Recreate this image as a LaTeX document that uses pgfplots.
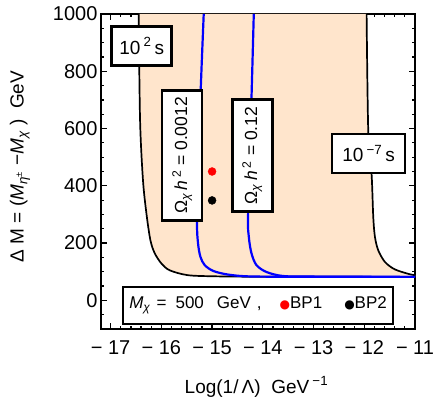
\documentclass[border=0pt]{standalone}
\usepackage{fontspec}
\setmainfont{Liberation Sans}
\newfontfamily\dejavu{DejaVu Sans}
\usepackage{pgfplots}
\pgfplotsset{compat=1.18}
\definecolor{peach}{RGB}{255,229,204}
\begin{document}
\begin{tikzpicture}
\begin{axis}[
  at={(0,0)}, anchor=south west,
  scale only axis, width=314bp, height=315bp,
  xmin=-17.19, xmax=-11, ymin=-100, ymax=1000,
  axis line style={line width=1.8bp},
  tick align=inside,
  xtick={-17,-16,-15,-14,-13,-12,-11},
  xticklabels={−\ 17,−\ 16,−\ 15,−\ 14,−\ 13,−\ 12,−\ 11},
  ytick={0,200,400,600,800,1000},
  yticklabels={0,200,400,600,800,1000},
  minor xtick={-17.2,-17,...,-11},
  minor ytick={-100,-50,...,1000},
  major tick length=6bp, minor tick length=3bp,
  every tick/.style={black, line width=1.2bp},
  ticklabel style={font=\fontsize{20bp}{22bp}\selectfont},
  xticklabel style={yshift=-8bp},
  label style={font=\fontsize{19bp}{21bp}\selectfont},
  xlabel={Log(1/\,Λ)~ GeV\,\textsuperscript{−1}},
  ylabel={Δ M = (\textit{M}\textsubscript{\textit{η}\textsuperscript{±}} −\textit{M}\textsubscript{\textit{χ}} )~ GeV},
  xlabel style={at={(axis description cs:0.495,-0.184)}, anchor=center},
  ylabel style={at={(axis description cs:-0.258,0.516)}, anchor=center},
]
% shaded region
\addplot[fill=peach, draw=none] coordinates {
 (-16.447,1000) (-16.42,630) (-16.363,421) (-16.295,304) (-16.216,210) (-16.132,165) (-16.0,129) (-15.836,105) (-15.48,88) (-14.95,84) (-14,82.5) (-11,82)
 (-11,88) (-11.099,91) (-11.395,108) (-11.592,134) (-11.725,175) (-11.79,222) (-11.823,292) (-11.855,439) (-11.922,596) (-11.954,1000)
} -- cycle;
% lifetime contours
\addplot[black, line width=1.7bp, smooth, tension=0.5] coordinates {
 (-16.447,1000) (-16.42,630) (-16.363,421) (-16.295,304) (-16.216,210) (-16.132,165) (-16.0,129) (-15.836,105) (-15.48,88) (-14.95,84) (-14,82.5) (-11,82)
};
\addplot[black, line width=1.7bp, smooth, tension=0.5] coordinates {
 (-11.954,1000) (-11.922,596) (-11.855,439) (-11.823,292) (-11.79,222) (-11.725,175) (-11.592,134) (-11.395,108) (-11.099,91) (-11,88)
};
% relic contours
\addplot[blue, line width=2.2bp, smooth, tension=0.5] coordinates {
 (-15.165,1000) (-15.224,737) (-15.265,500) (-15.297,275) (-15.277,199) (-15.23,152) (-15.145,123) (-14.981,103) (-14.717,91) (-14.322,84) (-13.5,82.5) (-11,82)
};
\addplot[blue, line width=2.2bp, smooth, tension=0.5] coordinates {
 (-14.178,1000) (-14.223,709) (-14.29,304) (-14.276,222) (-14.223,164) (-14.125,123) (-13.927,99) (-13.6,85) (-13,83) (-11,82)
};
% labels
\node[draw, line width=2.5bp, fill=white, minimum width=60bp, minimum height=39bp, inner sep=0pt, font=\fontsize{19bp}{21bp}\selectfont] at (axis cs:-16.388,888) {10\,\textsuperscript{2}\,s};
\node[draw, line width=2.5bp, fill=white, minimum width=73bp, minimum height=39bp, inner sep=0pt, font=\fontsize{19bp}{21bp}\selectfont] at (axis cs:-11.914,513) {10\,\textsuperscript{−7}\,s};
\node[draw, line width=2.5bp, fill=white, rotate=90, minimum width=130bp, minimum height=40bp, inner sep=0pt, font=\fontsize{17.5bp}{19bp}\selectfont] at (axis cs:-15.589,506) {Ω\textsubscript{\textit{χ}}\,\textit{h}\,\textsuperscript{2} = 0.0012};
\node[draw, line width=2.5bp, fill=white, rotate=90, minimum width=112bp, minimum height=40bp, inner sep=0pt, font=\fontsize{17.5bp}{19bp}\selectfont] at (axis cs:-14.207,506) {Ω\textsubscript{\textit{χ}}\,\textit{h}\,\textsuperscript{2} = 0.12};
% benchmark points
\addplot[only marks, mark=*, mark size=4bp, red, mark options={draw=red, fill=red}] coordinates {(-15.0,450)};
\addplot[only marks, mark=*, mark size=4bp, black] coordinates {(-15.0,349)};
% legend box
\node[draw, line width=2.5bp, fill=white, minimum width=270bp, minimum height=37bp, inner sep=0pt, font=\fontsize{17bp}{18bp}\selectfont] at (axis cs:-14.093,-17.5) {\textit{M}\textsubscript{\textit{χ}}\hspace{6bp}=\hspace{9bp}500\hspace{13bp}GeV\hspace{6bp},\hspace{18bp}{\color{red}\dejavu\fontsize{12bp}{12bp}\selectfont ●}BP1\hspace{22bp}{\dejavu\fontsize{12bp}{12bp}\selectfont ●}BP2};
\end{axis}
\pgfresetboundingbox
\path[use as bounding box] (-101bp,-71bp) rectangle (332bp,329bp);
\end{tikzpicture}
\end{document}
